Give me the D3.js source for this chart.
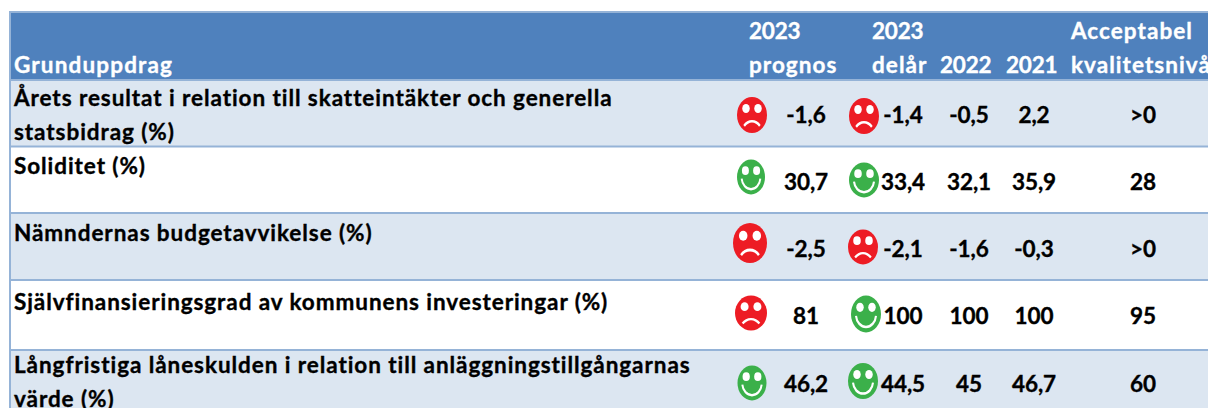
<!DOCTYPE html>
<html>
<head>
<meta charset="utf-8">
<script src="https://cdn.jsdelivr.net/npm/d3@7"></script>
<style>
  html, body { margin: 0; padding: 0; background: #fff; overflow: hidden; }
  text { font-family: Lato, "Open Sans", sans-serif; font-weight: 700; stroke-width: 0.35; paint-order: stroke; }
</style>
</head>
<body>
<div id="chart"></div>
<script>
const rowLabels = [
  ["Årets resultat i relation till skatteintäkter och generella", "statsbidrag (%)"],
  ["Soliditet (%)"],
  ["Nämndernas budgetavvikelse (%)"],
  ["Självfinansieringsgrad av kommunens investeringar (%)"],
  ["Långfristiga låneskulden i relation till anläggningstillgångarnas", "värde (%)"]
];
const columns = ["prognos", "delar", "y2022", "y2021", "niva"];
const columnHeaders = [["2023", "prognos"], ["2023", "delår"], ["", "2022"], ["", "2021"], ["Acceptabel", "kvalitetsnivå"]];
const prognos2023 = ["-1,6", "30,7", "-2,5", "81", "46,2"];
const delar2023 = ["-1,4", "33,4", "-2,1", "100", "44,5"];
const values2022 = ["-0,5", "32,1", "-1,6", "100", "45"];
const values2021 = ["2,2", "35,9", "-0,3", "100", "46,7"];
const niva = [">0", "28", ">0", "95", "60"];
const prognosMood = ["sad", "happy", "sad", "sad", "happy"];
const delarMood = ["sad", "happy", "sad", "happy", "happy"];

const width = 1208, height = 408;
const left = 11, tableTop = 12;
const fontSize = 22.5;

const svg = d3.select("#chart").append("svg")
  .attr("width", width).attr("height", height)
  .style("display", "block");

// row edges are a little uneven in the sheet
const y = d3.scaleLinear().domain([0, 1, 2, 3, 4, 5]).range([80, 146.5, 213, 280, 350, 418]);

// centres of the value columns and left edges of the headers
const xValue = d3.scaleOrdinal().domain(columns).range([806, 903, 969, 1034, 1143]);
const xHeader = d3.scaleOrdinal().domain(columns).range([749, 872, 940, 1006, 1071]);

// header band
svg.append("rect").attr("x", left).attr("y", tableTop)
  .attr("width", width - left).attr("height", y(0) - tableTop)
  .attr("fill", "#4f81bd");

// row stripes
svg.selectAll(".row").data(d3.range(5)).enter().append("rect")
  .attr("class", "row")
  .attr("x", left).attr("y", d => y(d))
  .attr("width", width - left).attr("height", d => y(d + 1) - y(d))
  .attr("fill", d => d % 2 === 0 ? "#dce6f1" : "#fff");

// borders
const rules = [tableTop].concat(d3.range(5).map(d => y(d)));
svg.selectAll(".rule").data(rules).enter().append("line")
  .attr("class", "rule")
  .attr("x1", left - 1).attr("x2", width)
  .attr("y1", d => d).attr("y2", d => d)
  .attr("stroke", "#95b3d7").attr("stroke-width", 2);
svg.append("line").attr("x1", left - 1).attr("x2", left - 1)
  .attr("y1", tableTop - 1).attr("y2", height)
  .attr("stroke", "#95b3d7").attr("stroke-width", 2);

// header text
svg.append("text").attr("x", 14).attr("y", 73)
  .attr("fill", "#fff").attr("stroke", "#fff").attr("font-size", fontSize).attr("letter-spacing", 1.15)
  .text("Grunduppdrag");
columns.forEach((c, i) => {
  columnHeaders[i].forEach((t, j) => {
    const digits = /^\d+$/.test(t);
    svg.append("text").attr("x", xHeader(c)).attr("y", j === 0 ? 39 : 73)
      .attr("fill", "#fff").attr("stroke", "#fff").attr("font-size", fontSize)
      .attr("letter-spacing", digits ? -0.2 : 1.05)
      .text(t);
  });
});

// row labels
const labelBase = [106, 174, 241, 310, 373];
rowLabels.forEach((lines, i) => {
  lines.forEach((t, j) => {
    svg.append("text").attr("x", 14).attr("y", labelBase[i] + j * 34)
      .attr("fill", "#000").attr("stroke", "#000").attr("font-size", fontSize).attr("letter-spacing", 0.93)
      .text(t);
  });
});

// values
const valueBase = [123, 190, 257, 324, 392];
[prognos2023, delar2023, values2022, values2021, niva].forEach((series, k) => {
  svg.selectAll(".v" + k).data(series).enter().append("text")
    .attr("class", "v" + k)
    .attr("x", xValue(columns[k]))
    .attr("y", (d, i) => valueBase[i])
    .attr("text-anchor", "middle")
    .attr("font-size", fontSize).attr("letter-spacing", -0.1)
    .attr("fill", "#000").attr("stroke", "#000")
    .text(d => d);
});

// smileys: [cx, cy, rx, ry] picked per cell, the pasted icons are not aligned
const prognosFaces = [[752, 115, 15, 18], [751, 177, 14, 17.5], [750, 243, 17, 20], [751, 313, 16, 17.5], [752, 383, 14.5, 17.5]];
const delarFaces = [[864, 116, 15, 18], [864, 180, 15, 17.5], [863, 247, 15, 17.5], [866, 314, 15, 18.5], [863, 381, 15, 18]];

const mouth = {
  happy: d3.arc().innerRadius(0.6).outerRadius(0.74).startAngle(Math.PI / 2 + 0.1).endAngle(Math.PI * 1.5 - 0.1)(),
  sad: d3.arc().innerRadius(0.6).outerRadius(0.74).startAngle(-0.9).endAngle(0.9)()
};

function drawFace(box, mood) {
  const g = svg.append("g")
    .attr("transform", `translate(${box[0]},${box[1]}) scale(${box[2]},${box[3]})`);
  g.append("circle").attr("r", 1).attr("fill", mood === "happy" ? "#3bb04a" : "#ed1c24");
  g.selectAll(".eye").data([-0.4, 0.4]).enter().append("circle")
    .attr("cx", d => d).attr("cy", -0.36).attr("r", 0.25).attr("fill", "#fff");
  g.append("path").attr("d", mood === "happy" ? mouth.happy : mouth.sad)
    .attr("transform", mood === "happy" ? "translate(0,0.03)" : "translate(0,1.02)")
    .attr("fill", "#fff");
}

prognosMood.forEach((m, i) => drawFace(prognosFaces[i], m));
delarMood.forEach((m, i) => drawFace(delarFaces[i], m));
</script>
</body>
</html>
